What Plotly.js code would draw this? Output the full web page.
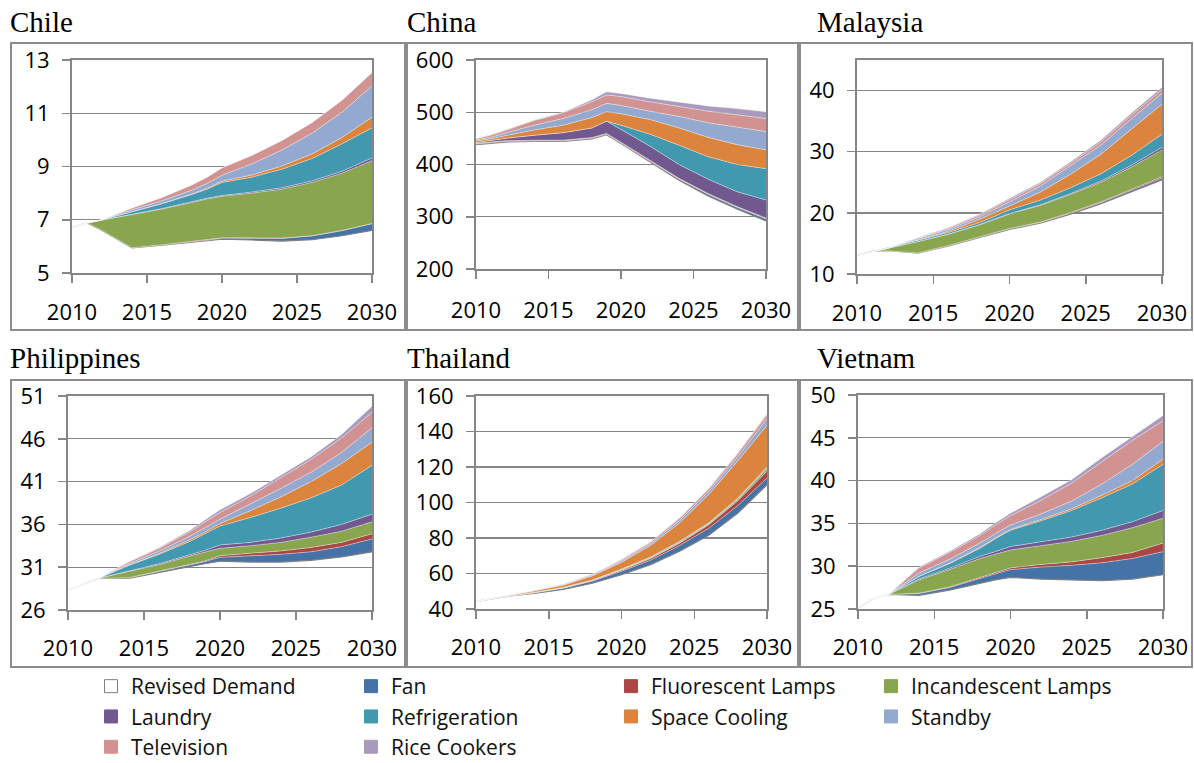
<!DOCTYPE html>
<html>
<head>
<meta charset="utf-8">
<script src="https://cdn.plot.ly/plotly-3.0.1.min.js"></script>
<style>html,body{margin:0;padding:0;background:#fff;}#chart{width:1194px;height:763px;}</style>
</head>
<body>
<div id="chart"></div>
<script>
// ---------------- DATA ----------------
const years = [2010, 2011, 2012, 2014, 2016, 2018, 2019, 2020, 2022, 2024, 2026, 2028, 2030];
const xTickYears = [2010, 2015, 2020, 2025, 2030];
const seriesNames = ["Revised Demand", "Fan", "Fluorescent Lamps", "Incandescent Lamps", "Laundry",
  "Refrigeration", "Space Cooling", "Standby", "Television", "Rice Cookers"];
const seriesColors = ["#FFFFFF", "#4572A7", "#AA4643", "#89A54E", "#71588F",
  "#4198AF", "#DB843D", "#93A9CF", "#D19392", "#A99BBD"];
const countryNames = ["Chile", "China", "Malaysia", "Philippines", "Thailand", "Vietnam"];

// rows follow seriesNames order (revised demand, then savings stacked on top)
const chileValues = [
  [6.69, 6.88, 6.6, 5.94, 6.05, 6.15, 6.2, 6.27, 6.24, 6.2, 6.25, 6.4, 6.6],
  [0, 0, 0, 0.01, 0.01, 0.02, 0.03, 0.04, 0.07, 0.1, 0.14, 0.19, 0.25],
  [0, 0, 0, 0, 0, 0.01, 0.01, 0.01, 0.01, 0.01, 0.01, 0.01, 0.01],
  [0, 0, 0.39, 1.25, 1.34, 1.47, 1.54, 1.56, 1.68, 1.84, 2.0, 2.15, 2.36],
  [0, 0, 0, 0.01, 0.02, 0.03, 0.03, 0.03, 0.04, 0.05, 0.06, 0.07, 0.1],
  [0, 0, 0.01, 0.09, 0.18, 0.27, 0.34, 0.49, 0.56, 0.7, 0.84, 1.03, 1.13],
  [0, 0, 0, 0.005, 0.01, 0.02, 0.03, 0.05, 0.08, 0.12, 0.17, 0.24, 0.4],
  [0, 0, 0, 0.07, 0.1, 0.14, 0.18, 0.22, 0.42, 0.6, 0.78, 0.95, 1.18],
  [0, 0, 0, 0.07, 0.13, 0.2, 0.24, 0.28, 0.32, 0.36, 0.4, 0.45, 0.5],
  [0, 0, 0, 0, 0, 0, 0, 0, 0, 0, 0, 0, 0]
];
const chinaValues = [
  [438, 440, 443, 444, 444, 449, 457, 440, 405, 370, 340, 315, 292],
  [1, 1, 1, 1, 1, 1, 1, 1, 2, 2, 3, 3, 4],
  [1, 1, 1, 1, 1, 1, 1, 1, 1, 1, 1, 1, 1],
  [0.5, 0.5, 0.5, 0.5, 0.5, 0.5, 0.5, 0.5, 0.5, 0.5, 0.5, 0.5, 0.5],
  [1.5, 3.5, 4.5, 9.5, 14.5, 18.5, 23.5, 24.5, 26.5, 26.5, 27.5, 28.5, 34.5],
  [0, 0, 0, 0, 0, 0, 0, 8, 23, 37, 43, 52, 60],
  [3, 3, 5, 10, 14, 20, 18, 22, 28, 33, 37, 38, 36],
  [2, 3, 5, 9, 13, 15, 16, 16, 16, 22, 28, 34, 35],
  [2, 4, 5, 9, 11, 15, 16, 17, 18, 19, 22, 23, 25],
  [1, 1, 1, 1, 1, 4, 6, 6, 7, 9, 10, 12, 13]
];
const malaysiaValues = [
  [13.1, 13.7, 13.8, 13.4, 14.6, 15.9, 16.6, 17.3, 18.3, 19.8, 21.5, 23.4, 25.4],
  [0, 0, 0, 0.02, 0.04, 0.06, 0.07, 0.08, 0.1, 0.14, 0.18, 0.24, 0.3],
  [0, 0, 0, 0.02, 0.03, 0.05, 0.05, 0.06, 0.08, 0.1, 0.12, 0.15, 0.2],
  [0, 0, 0.4, 1.86, 1.83, 1.99, 2.18, 2.36, 2.72, 2.96, 3.2, 3.71, 4.4],
  [0, 0, 0, 0.02, 0.04, 0.06, 0.07, 0.08, 0.1, 0.15, 0.2, 0.3, 0.45],
  [0, 0, 0, 0.18, 0.26, 0.34, 0.43, 0.62, 0.75, 0.95, 1.2, 1.6, 2.1],
  [0, 0, 0, 0.1, 0.2, 0.5, 0.6, 0.6, 1.3, 2.2, 3.2, 4.3, 4.9],
  [0, 0, 0, 0.2, 0.3, 0.4, 0.5, 0.7, 1.0, 1.4, 1.5, 1.7, 1.8],
  [0, 0, 0, 0.1, 0.2, 0.3, 0.4, 0.4, 0.4, 0.4, 0.5, 0.6, 0.6],
  [0, 0, 0, 0.05, 0.1, 0.15, 0.2, 0.2, 0.2, 0.25, 0.3, 0.35, 0.4]
];
const philippinesValues = [
  [28.3, 29.0, 29.7, 29.7, 30.4, 31.1, 31.4, 31.7, 31.6, 31.6, 31.8, 32.2, 32.8],
  [0, 0, 0, 0.05, 0.1, 0.2, 0.25, 0.45, 0.7, 0.9, 1.0, 1.2, 1.5],
  [0, 0, 0, 0.02, 0.03, 0.05, 0.07, 0.2, 0.3, 0.4, 0.5, 0.5, 0.6],
  [0, 0, 0, 0.73, 0.77, 0.95, 1.03, 0.85, 0.9, 1.0, 1.2, 1.3, 1.4],
  [0, 0, 0, 0.05, 0.1, 0.15, 0.2, 0.4, 0.4, 0.5, 0.6, 0.8, 0.9],
  [0, 0, 0, 0.65, 1.1, 1.55, 1.95, 2.2, 2.9, 3.5, 4.0, 4.6, 5.7],
  [0, 0, 0, 0.05, 0.1, 0.2, 0.2, 0.3, 0.8, 1.3, 1.9, 2.5, 2.7],
  [0, 0, 0, 0.15, 0.3, 0.4, 0.5, 0.5, 0.8, 1.0, 1.1, 1.3, 1.7],
  [0, 0, 0, 0.2, 0.3, 0.5, 0.6, 0.8, 0.9, 1.2, 1.5, 1.7, 1.8],
  [0, 0, 0, 0.05, 0.1, 0.2, 0.3, 0.3, 0.3, 0.3, 0.3, 0.4, 0.7]
];
const thailandValues = [
  [44.3, 45.8, 47.0, 48.8, 51.0, 54.5, 56.8, 59.3, 65.0, 72.5, 81.5, 94.0, 110.0],
  [0, 0, 0, 0.3, 0.7, 1.2, 1.5, 1.9, 2.5, 3.3, 4.0, 4.3, 3.8],
  [0, 0, 0, 0.1, 0.2, 0.3, 0.4, 0.6, 0.9, 1.3, 1.9, 2.7, 3.8],
  [0, 0, 0, 0.1, 0.15, 0.2, 0.3, 0.4, 0.5, 0.5, 0.6, 0.8, 1.5],
  [0, 0, 0, 0.02, 0.05, 0.08, 0.1, 0.1, 0.15, 0.2, 0.25, 0.3, 0.4],
  [0, 0, 0, 0.05, 0.1, 0.1, 0.15, 0.2, 0.2, 0.3, 0.3, 0.4, 0.5],
  [0, 0, 0, 0.6, 1.2, 2.2, 3.0, 3.8, 6.5, 10.5, 16.0, 21.0, 23.5],
  [0, 0, 0, 0.2, 0.3, 0.5, 0.6, 0.8, 1.0, 1.5, 1.8, 2.3, 3.6],
  [0, 0, 0, 0.2, 0.3, 0.5, 0.6, 0.7, 0.9, 1.1, 1.3, 1.7, 2.2],
  [0, 0, 0, 0.05, 0.1, 0.1, 0.15, 0.2, 0.2, 0.3, 0.4, 0.5, 0.7]
];
const vietnamValues = [
  [25.1, 26.2, 26.7, 26.6, 27.2, 28.0, 28.4, 28.7, 28.5, 28.4, 28.3, 28.5, 29.0],
  [0, 0, 0, 0.2, 0.3, 0.6, 0.7, 0.9, 1.4, 1.7, 2.1, 2.4, 2.7],
  [0, 0, 0, 0.05, 0.08, 0.1, 0.15, 0.2, 0.3, 0.4, 0.6, 0.7, 1.0],
  [0, 0, 0, 1.55, 2.02, 2.2, 2.15, 2.1, 2.2, 2.4, 2.6, 2.9, 2.9],
  [0, 0, 0, 0.1, 0.15, 0.25, 0.3, 0.4, 0.45, 0.5, 0.6, 0.7, 0.9],
  [0, 0, 0, 0.3, 0.55, 0.95, 1.5, 1.9, 2.45, 3.1, 3.8, 4.4, 5.4],
  [0, 0, 0, 0.02, 0.05, 0.08, 0.08, 0.1, 0.15, 0.2, 0.3, 0.4, 0.6],
  [0, 0, 0, 0.38, 0.45, 0.52, 0.52, 0.5, 0.65, 0.9, 1.3, 1.9, 2.1],
  [0, 0, 0, 0.6, 0.8, 0.9, 1.0, 1.1, 1.6, 2.1, 2.6, 2.8, 2.4],
  [0, 0, 0, 0.1, 0.15, 0.2, 0.25, 0.3, 0.4, 0.4, 0.5, 0.5, 0.6]
];
const yRanges = [[5, 13], [200, 600], [10, 45], [26, 51], [40, 160], [25, 50]];
const yDticks = [2, 100, 10, 5, 20, 5];

// ---------------- LAYOUT ----------------
const W = 1194, H = 763;
const allValues = [chileValues, chinaValues, malaysiaValues, philippinesValues, thailandValues, vietnamValues];
// plot-area pixel boxes [left, right, top, bottom]
const plotBoxes = [
  [72, 372, 60, 273], [476, 766, 60, 269], [857, 1162, 60, 274],
  [68, 372, 396, 610], [476, 767, 396, 609], [858, 1163, 395, 609]
];
const panelBoxes = [
  [11, 405, 43, 330], [407, 798, 43, 330], [800, 1192, 43, 330],
  [11, 405, 380, 667], [407, 798, 380, 667], [800, 1192, 380, 667]
];
const titlePos = [[8, 22], [405, 22], [815, 22], [8, 358], [405, 358], [815, 358]];
const xStandoff = [11, 13, 11, 10, 10, 10];

const GRAY = '#868686';
const tickFont = {family: 'Open Sans, Lato, sans-serif', size: 22, color: '#000'};

const traces = [];
const layout = {
  width: W, height: H,
  margin: {l: 0, r: 0, t: 0, b: 0, autoexpand: false},
  paper_bgcolor: '#fff', plot_bgcolor: '#fff',
  showlegend: true,
  shapes: [], annotations: [],
  legend: {
    orientation: 'h', x: 91 / W, xanchor: 'left', y: -4 / H, yanchor: 'bottom',
    entrywidth: 215, entrywidthmode: 'pixels', traceorder: 'normal',
    font: {family: 'Open Sans, Lato, sans-serif', size: 21, color: '#111'},
    bgcolor: 'rgba(0,0,0,0)', borderwidth: 0, itemclick: false
  }
};

countryNames.forEach((cn, ci) => {
  const sfx = ci === 0 ? '' : String(ci + 1);
  const xa = 'x' + sfx, ya = 'y' + sfx;
  const vals = allValues[ci];
  seriesNames.forEach((sn, si) => {
    const isBase = si === 0;
    traces.push({
      type: 'scatter', mode: 'lines', x: years, y: vals[si], name: sn,
      xaxis: xa, yaxis: ya, stackgroup: 'g' + ci, showlegend: false,
      line: {color: isBase ? '#7f7f7f' : 'rgba(255,255,255,0.8)', width: isBase ? 1.2 : 0.5, shape: 'linear'},
      fillcolor: isBase ? 'rgba(255,255,255,0)' : seriesColors[si],
      hoverinfo: 'skip'
    });
  });
  const pb = plotBoxes[ci];
  layout['xaxis' + sfx] = {
    domain: [pb[0] / W, pb[1] / W], anchor: ya,
    range: [years[0], years[years.length - 1]],
    tickvals: xTickYears, ticktext: xTickYears.map(String),
    ticks: 'outside', ticklen: 8, tickwidth: 1.5, tickcolor: GRAY,
    showgrid: false, zeroline: false,
    showline: true, linecolor: GRAY, linewidth: 2, mirror: true,
    tickfont: tickFont, ticklabelstandoff: xStandoff[ci], automargin: false, fixedrange: true
  };
  layout['yaxis' + sfx] = {
    domain: [1 - pb[3] / H, 1 - pb[2] / H], anchor: xa,
    range: yRanges[ci], tick0: yRanges[ci][0], dtick: yDticks[ci],
    ticks: 'outside', ticklen: 8, tickwidth: 1.5, tickcolor: GRAY,
    showgrid: true, gridcolor: GRAY, gridwidth: 1.3, zeroline: false,
    showline: true, linecolor: GRAY, linewidth: 2, mirror: true,
    tickfont: tickFont, ticklabelstandoff: 8, automargin: false, fixedrange: true
  };
  const bx = panelBoxes[ci];
  layout.shapes.push({
    type: 'rect', xref: 'paper', yref: 'paper',
    x0: bx[0] / W, x1: bx[1] / W, y0: 1 - bx[3] / H, y1: 1 - bx[2] / H,
    line: {color: '#8c8c8c', width: 2}, fillcolor: 'rgba(0,0,0,0)', layer: 'below'
  });
  const tp = titlePos[ci];
  layout.annotations.push({
    text: cn, xref: 'paper', yref: 'paper', x: tp[0] / W, y: 1 - tp[1] / H,
    xanchor: 'left', yanchor: 'middle', showarrow: false,
    font: {family: 'Liberation Serif, Times New Roman, serif', size: 29, color: '#000', weight: 'normal'}
  });
});

// legend entries (square swatches)
seriesNames.forEach((sn, si) => {
  traces.push({
    type: 'scatter', mode: 'markers', x: [null], y: [null], name: sn,
    xaxis: 'x', yaxis: 'y', showlegend: true, hoverinfo: 'skip',
    marker: {symbol: 'square', size: 13, color: seriesColors[si],
      line: {color: si === 0 ? '#7f7f7f' : seriesColors[si], width: 1}}
  });
});

Plotly.newPlot('chart', traces, layout, {staticPlot: true, displayModeBar: false});
</script>
</body>
</html>
